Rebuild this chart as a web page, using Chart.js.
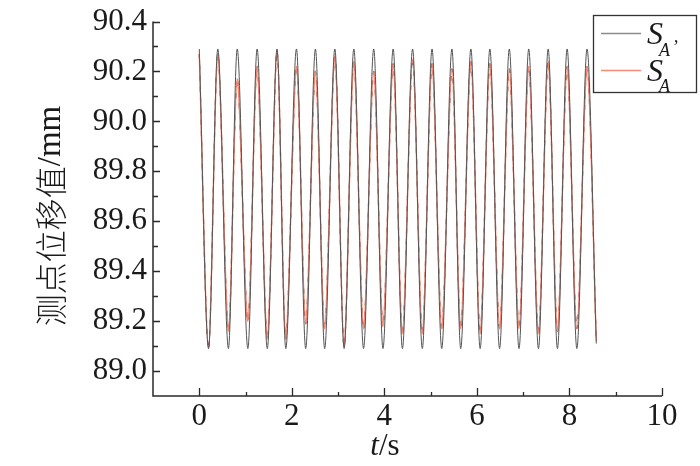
<!DOCTYPE html>
<html>
<head>
<meta charset="utf-8">
<script src="https://cdn.jsdelivr.net/npm/chart.js@4.4.1/dist/chart.umd.min.js"></script>
<style>
html,body{margin:0;padding:0;background:#fff;}
#wrap{width:700px;height:466px;}
</style>
</head>
<body>
<div id="wrap"><canvas id="c" width="700" height="466"></canvas></div>
<script>
// time of each extreme (peak / trough) and end point, seconds
const times = [0, 0.20, 0.40, 0.63, 0.82, 1.05, 1.25, 1.47, 1.68, 1.87, 2.10, 2.30, 2.51, 2.71, 2.93, 3.13, 3.34, 3.55, 3.77, 3.97, 4.19, 4.39, 4.61, 4.82, 5.03, 5.24, 5.46, 5.65, 5.87, 6.07, 6.28, 6.49, 6.70, 6.91, 7.12, 7.33, 7.54, 7.74, 7.95, 8.16, 8.38, 8.58];
// S_A' (black) values, mm
const seriesSAp = [90.29, 89.09, 90.29, 89.09, 90.29, 89.09, 90.29, 89.09, 90.29, 89.09, 90.29, 89.09, 90.29, 89.09, 90.29, 89.09, 90.29, 89.09, 90.29, 89.09, 90.29, 89.09, 90.29, 89.09, 90.29, 89.09, 90.29, 89.09, 90.29, 89.09, 90.29, 89.09, 90.29, 89.09, 90.29, 89.09, 90.29, 89.09, 90.29, 89.09, 90.29, 89.11];
// S_A (red) values, mm
const seriesSA = [90.27, 89.09, 90.27, 89.16, 90.17, 89.20, 90.22, 89.13, 90.28, 89.13, 90.22, 89.19, 90.20, 89.17, 90.26, 89.10, 90.24, 89.17, 90.20, 89.18, 90.23, 89.15, 90.25, 89.15, 90.23, 89.17, 90.21, 89.17, 90.24, 89.15, 90.23, 89.17, 90.21, 89.17, 90.22, 89.15, 90.24, 89.16, 90.22, 89.17, 90.22, 89.12];
const xTickValues = [0, 2, 4, 6, 8, 10];
const xMinorTicks = [1, 3, 5, 7, 9];
const yTickValues = [89.0, 89.2, 89.4, 89.6, 89.8, 90.0, 90.2, 90.4];
const yMinorTicks = [89.1, 89.3, 89.5, 89.7, 89.9, 90.1, 90.3];
const yTitleCJK = '测点位移值';
const yTitleUnit = '/mm';

const toPts = (arr) => arr.map((v, i) => ({x: times[i], y: v}));
const AXIS = '#2a2a2a';
const BLACK = '#555555';
const RED = '#f58a76';
const DARK = '#6b2a20';

const deco = {
  id: 'deco',
  afterDraw(chart) {
    const ctx = chart.ctx, a = chart.chartArea;
    const xs = chart.scales.x, ys = chart.scales.y;
    ctx.save();
    ctx.strokeStyle = AXIS;
    ctx.lineWidth = 1.5;
    ctx.beginPath();
    ctx.moveTo(a.left, a.top); ctx.lineTo(a.left, a.bottom); ctx.lineTo(a.right, a.bottom);
    ctx.stroke();
    ctx.lineWidth = 1.3;
    ctx.beginPath();
    yTickValues.forEach(v => { const y = Math.round(ys.getPixelForValue(v)) + 0.5; ctx.moveTo(a.left, y); ctx.lineTo(a.left + 7, y); });
    yMinorTicks.forEach(v => { const y = Math.round(ys.getPixelForValue(v)) + 0.5; ctx.moveTo(a.left, y); ctx.lineTo(a.left + 5, y); });
    xTickValues.forEach(v => { const x = Math.round(xs.getPixelForValue(v)) + 0.5; ctx.moveTo(x, a.bottom); ctx.lineTo(x, a.bottom - 8); });
    xMinorTicks.forEach(v => { const x = Math.round(xs.getPixelForValue(v)) + 0.5; ctx.moveTo(x, a.bottom); ctx.lineTo(x, a.bottom - 4); });
    ctx.stroke();

    // y title
    ctx.fillStyle = '#1a1a1a';
    ctx.translate(50, 216);
    ctx.rotate(-Math.PI / 2);
    ctx.textBaseline = 'middle';
    ctx.font = '300 32px "Noto Sans CJK SC"';
    const w1 = ctx.measureText(yTitleCJK).width;
    ctx.font = '33px "Liberation Serif"';
    const w2 = ctx.measureText(yTitleUnit).width;
    let sx = -(w1 + w2) / 2;
    ctx.font = '300 32px "Noto Sans CJK SC"';
    ctx.textAlign = 'left';
    ctx.fillText(yTitleCJK, sx, 1);
    ctx.font = '33px "Liberation Serif"';
    ctx.fillText(yTitleUnit, sx + w1, 1);
    ctx.setTransform(1, 0, 0, 1, 0, 0);

    // x title
    ctx.textBaseline = 'alphabetic';
    ctx.font = 'italic 31px "Liberation Serif"';
    const tw = ctx.measureText('t').width;
    ctx.font = '31px "Liberation Serif"';
    const sw = ctx.measureText('/s').width;
    const cx = 385 - (tw + sw) / 2;
    ctx.font = 'italic 31px "Liberation Serif"';
    ctx.fillText('t', cx, 455);
    ctx.font = '31px "Liberation Serif"';
    ctx.fillText('/s', cx + tw, 455);

    // legend
    ctx.fillStyle = '#fff';
    ctx.fillRect(593, 15, 104, 78);
    ctx.strokeStyle = '#333';
    ctx.lineWidth = 1.3;
    ctx.strokeRect(593.5, 15.5, 103, 77);
    ctx.lineWidth = 1.3;
    ctx.strokeStyle = '#8a8a8a';
    ctx.beginPath(); ctx.moveTo(601, 33.5); ctx.lineTo(641, 33.5); ctx.stroke();
    ctx.strokeStyle = RED;
    ctx.beginPath(); ctx.moveTo(601, 70.5); ctx.lineTo(641, 70.5); ctx.stroke();
    ctx.fillStyle = '#1a1a1a';
    ctx.font = 'italic 32px "Liberation Serif"';
    ctx.fillText('S', 647, 44);
    ctx.fillText('S', 647, 81);
    ctx.font = 'italic 18px "Liberation Serif"';
    ctx.fillText('A', 659, 56);
    ctx.fillText('A', 659, 92);
    ctx.font = '18px "Liberation Serif"';
    ctx.fillText('\u2019', 673, 53);
    ctx.restore();
  }
};

new Chart(document.getElementById('c'), {
  type: 'line',
  data: {
    datasets: [
      {label: "SA'", data: toPts(seriesSAp), borderColor: BLACK, borderWidth: 1, pointRadius: 0, cubicInterpolationMode: 'monotone', fill: false},
      {label: 'SA', data: toPts(seriesSA), borderColor: RED, borderWidth: 1.4, pointRadius: 0, tension: 0.3, fill: false},
      {label: 'SA dash', data: toPts(seriesSA), borderColor: DARK, borderWidth: 1.2, borderDash: [5, 6], pointRadius: 0, tension: 0.3, fill: false}
    ]
  },
  options: {
    responsive: false,
    animation: false,
    devicePixelRatio: 1,
    layout: {padding: {top: 16, right: 38, left: 0, bottom: 0}},
    plugins: {legend: {display: false}, tooltip: {enabled: false}},
    scales: {
      x: {
        type: 'linear', min: -1, max: 10,
        afterBuildTicks: s => { s.ticks = xTickValues.map(v => ({value: v})); },
        afterFit: s => { s.height = 70; },
        grid: {display: false, drawTicks: false},
        border: {display: false},
        ticks: {padding: 5, color: '#1a1a1a', font: {family: '"Liberation Serif"', size: 31, lineHeight: 1}, maxRotation: 0, autoSkip: false, callback: v => String(v)}
      },
      y: {
        type: 'linear', min: 88.9, max: 90.4,
        afterBuildTicks: s => { s.ticks = yTickValues.map(v => ({value: v})); },
        afterFit: s => { s.width = 153; },
        grid: {display: false, drawTicks: false},
        border: {display: false},
        ticks: {padding: 6, color: '#1a1a1a', font: {family: '"Liberation Serif"', size: 31, lineHeight: 1}, autoSkip: false, callback: v => Number(v).toFixed(1)}
      }
    }
  },
  plugins: [deco]
});
</script>
</body>
</html>
